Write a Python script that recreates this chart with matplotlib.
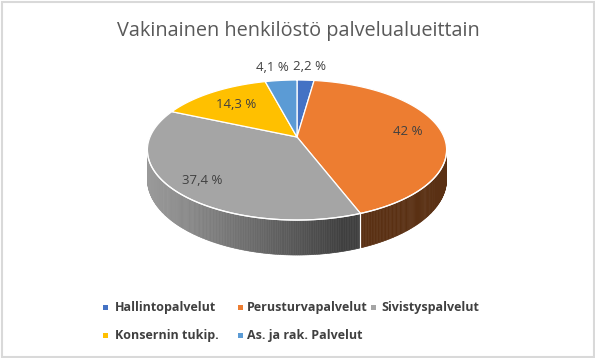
import numpy as np
import matplotlib
matplotlib.use('Agg')
import matplotlib.pyplot as plt
from matplotlib.patches import Polygon, Rectangle
import matplotlib.colors as mcolors

# ---- data ----
title = "Vakinainen henkilöstö palvelualueittain"
categories = ["Hallintopalvelut", "Perusturvapalvelut", "Sivistyspalvelut",
              "Konsernin tukip.", "As. ja rak. Palvelut"]
values = [2.2, 42.0, 37.4, 14.3, 4.1]
value_labels = ["2,2 %", "42 %", "37,4 %", "14,3 %", "4,1 %"]
colors = ["#4472C4", "#ED7D31", "#A5A5A5", "#FFC000", "#5B9BD5"]

# ---- figure ----
W, H = 595, 358
fig = plt.figure(figsize=(W / 100, H / 100), dpi=100)
ax = fig.add_axes([0, 0, 1, 1])
ax.set_xlim(0, W)
ax.set_ylim(H, 0)
ax.axis('off')

FONT = ['Open Sans', 'DejaVu Sans']

# 3D pie geometry (pixel space, perspective)
CX, CY, A, B, P, DEPTH = 297, 137, 147, 67.6, 0.186, 28.5


def proj(theta, r=1.0):
    u = r * np.sin(theta)
    v = -r * np.cos(theta)
    w = 1 - P * v
    return CX + A * u / w, CY + B * v / w, w


total = float(sum(values))
bounds = np.concatenate([[0], np.cumsum(values)]) / total * 2 * np.pi
vis_lo = np.arccos(-P)
vis_hi = 2 * np.pi - np.arccos(-P)


def shade(theta):
    return 0.38 + 0.55 * max(0.0, np.cos(theta - np.radians(255)))


# sides
for i, c in enumerate(colors):
    t0, t1 = max(bounds[i], vis_lo), min(bounds[i + 1], vis_hi)
    if t1 <= t0:
        continue
    n = max(4, int((t1 - t0) / 0.01))
    ts = np.linspace(t0, t1, n + 1)
    base = np.array(mcolors.to_rgb(c))
    for a0, a1 in zip(ts[:-1], ts[1:]):
        x0, y0, w0 = proj(a0)
        x1, y1, w1 = proj(a1)
        col = np.clip(base * shade((a0 + a1) / 2), 0, 1)
        quad = [(x0, y0), (x1, y1), (x1, y1 + DEPTH / w1), (x0, y0 + DEPTH / w0)]
        ax.add_patch(Polygon(quad, closed=True, facecolor=col, edgecolor=col,
                             lw=0.4, zorder=1))

# split lines on side
for b in bounds[1:-1]:
    if vis_lo < b < vis_hi:
        x, y, w = proj(b)
        ax.plot([x, x], [y, y + DEPTH / w], color='white', lw=0.9, zorder=2)

# top faces
for i, c in enumerate(colors):
    ts = np.linspace(bounds[i], bounds[i + 1], 200)
    pts = [(CX, CY)] + [proj(t)[:2] for t in ts]
    ax.add_patch(Polygon(pts, closed=True, facecolor=c, edgecolor='white',
                         lw=0.9, joinstyle='round', zorder=3))

# rim highlight along front edge
ts = np.linspace(vis_lo, vis_hi, 300)
rim = np.array([proj(t)[:2] for t in ts])
ax.plot(rim[:, 0], rim[:, 1], color='white', lw=0.9, zorder=4)

# data labels
label_r = [1.22, 0.77, 0.77, 0.77, 1.22]
label_dx = [2, 0, -4, 5, -6]
label_dy = [-3, 0, 4, 3, -3]
for i, lab in enumerate(value_labels):
    mid = (bounds[i] + bounds[i + 1]) / 2
    x, y, _ = proj(mid, label_r[i])
    ax.text(x + label_dx[i], y + label_dy[i], lab, ha='center', va='center',
            fontsize=9.5, color='#404040', family=FONT, zorder=5)

# title
ax.text(298, 31, title, ha='center', va='center', fontsize=14.3,
        color='#595959', family=FONT)

# legend
leg_marker = [(105, 307), (240, 307), (373, 307), (105, 335), (240, 335)]
leg_text_x = [115, 247, 381, 115, 247]
for (lx, ly), tx, name, c in zip(leg_marker, leg_text_x, categories, colors):
    ax.add_patch(Rectangle((lx - 2.5, ly - 2.5), 5, 5, facecolor=c,
                           edgecolor='none'))
    ax.text(tx, ly, name, ha='left', va='center', fontsize=9,
            fontweight='bold', color='#404040', family=FONT)

# chart border
ax.add_patch(Rectangle((1.5, 1.5), W - 3, H - 3, facecolor='none',
                       edgecolor='#d9d9d9', lw=1.5))

fig.savefig('out.png', dpi=100)
